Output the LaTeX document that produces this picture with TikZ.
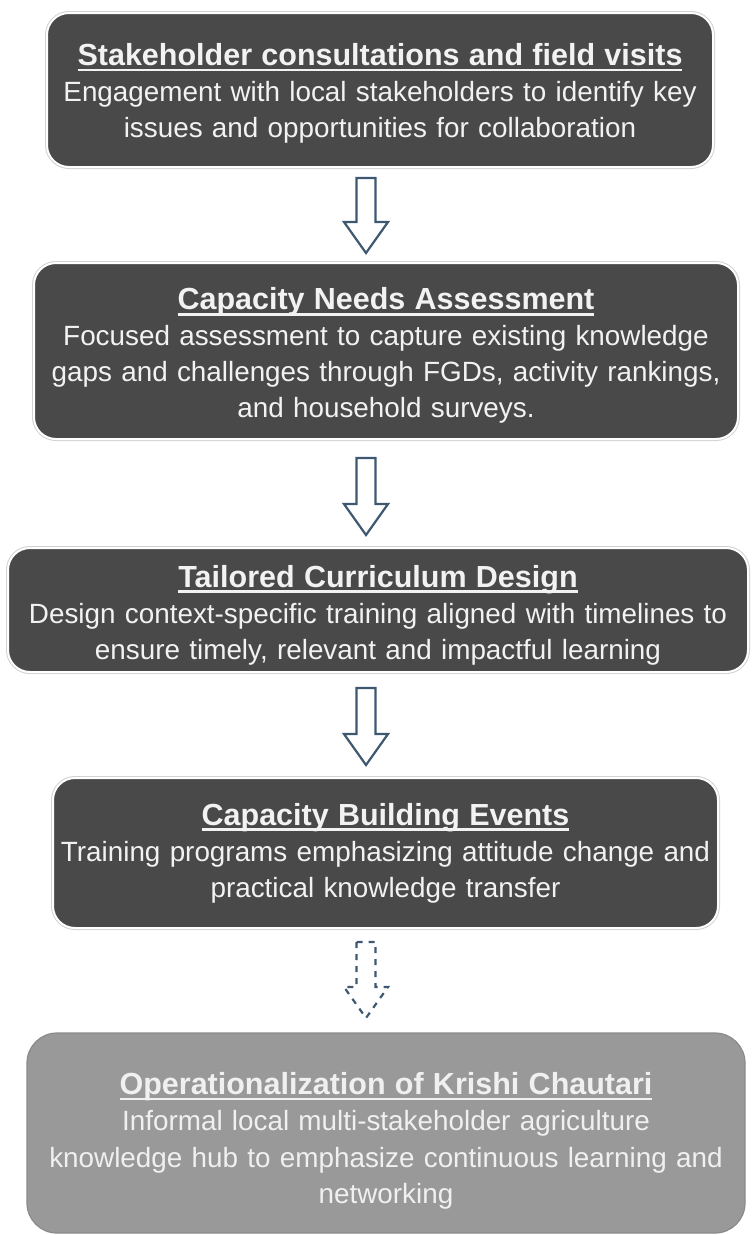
\documentclass[tikz,border=0pt]{standalone}
\usepackage{fontspec}
\setmainfont{Liberation Sans}
\usetikzlibrary{calc}

\definecolor{boxdark}{HTML}{494949}
\definecolor{boxpale}{HTML}{999999}
\definecolor{boxpaleedge}{HTML}{8A8A8A}
\definecolor{rimgray}{HTML}{D2D2D2}
\definecolor{textlight}{HTML}{F2F2F2}
\definecolor{textpale}{HTML}{F0F0F0}
\definecolor{arrowblue}{HTML}{3E5871}

% bold, underlined heading line of a step box; the optional argument
% is the height of an invisible strut that sets the top padding
\newcommand\steptitle[2][0pt]{{\fontsize{30.5}{37}\selectfont\bfseries
  \setbox0=\hbox{#2}\leavevmode\rule{0pt}{#1}\rlap{\rule[-6pt]{\wd0}{2.8pt}}\box0}}

% hollow block arrow pointing down from #2 to the tip #3
\newcommand\flowarrow[3][]{%
  \draw[flowarrow,#1] let \p1=(#2), \p2=(#3) in
    (\x1-9.5pt,\y1) -- (\x1+9.5pt,\y1) -- (\x1+9.5pt,\y2+31pt)
    -- (\x1+22pt,\y2+31pt) -- (\x2,\y2) -- (\x1-22pt,\y2+31pt)
    -- (\x1-9.5pt,\y2+31pt) -- cycle;}

\tikzset{
  stepbox/.style={rounded corners=22pt, fill=boxdark, draw=white, line width=2pt,
    preaction={draw=rimgray, line width=4pt},
    text=textlight, align=center, inner sep=0pt,
    font=\fontsize{27.85}{36}\selectfont},
  finalbox/.style={rounded corners=30pt, fill=boxpale, draw=boxpaleedge, line width=1.2pt,
    text=textpale, align=center, inner sep=0pt,
    font=\fontsize{27.85}{36.5}\selectfont},
  flowarrow/.style={draw=arrowblue, fill=white, line width=2.2pt, line join=miter},
  dashedarrow/.style={dash pattern=on 6pt off 6pt}
}

\begin{document}
\begin{tikzpicture}[x=1pt,y=-1pt]
  \useasboundingbox (0,0) rectangle (752,1235);

  \node[stepbox, minimum width=666pt, minimum height=154pt, text width=660pt]
    (b1) at (380,90)
    {\steptitle[28.5pt]{Stakeholder consultations and field visits}\\
     Engagement with local stakeholders to identify key\\
     issues and opportunities for collaboration};

  \node[stepbox, minimum width=704pt, minimum height=176pt, text width=698pt]
    (b2) at (386,351)
    {\steptitle[31.5pt]{Capacity Needs Assessment}\\
     Focused assessment to capture existing knowledge\\
     gaps and challenges through FGDs, activity rankings,\\
     and household surveys.};

  \node[stepbox, minimum width=740pt, minimum height=124pt, text width=736pt]
    (b3) at (378,610)
    {\steptitle[32pt]{Tailored Curriculum Design}\\
     Design context-specific training aligned with timelines to\\
     ensure timely, relevant and impactful learning};

  \node[stepbox, minimum width=665pt, minimum height=150pt, text width=659pt]
    (b4) at (385.5,853)
    {\steptitle{Capacity Building Events}\\
     Training programs emphasizing attitude change and\\
     practical knowledge transfer};

  \node[finalbox, minimum width=718pt, minimum height=200pt, text width=712pt]
    (b5) at (386,1133)
    {\steptitle[38pt]{Operationalization of Krishi Chautari}\\
     Informal local multi-stakeholder agriculture\\
     knowledge hub to emphasize continuous learning and\\
     networking};

  % arrow ends between consecutive boxes
  \coordinate (a1top) at (366,178);  \coordinate (a1tip) at (366,253);
  \coordinate (a2top) at (366,458);  \coordinate (a2tip) at (366,535);
  \coordinate (a3top) at (366,688);  \coordinate (a3tip) at (366,765);
  \coordinate (a4top) at (366,942);  \coordinate (a4tip) at (366,1018);

  \flowarrow{a1top}{a1tip}
  \flowarrow{a2top}{a2tip}
  \flowarrow{a3top}{a3tip}
  \flowarrow[dashedarrow]{a4top}{a4tip}
\end{tikzpicture}
\end{document}
